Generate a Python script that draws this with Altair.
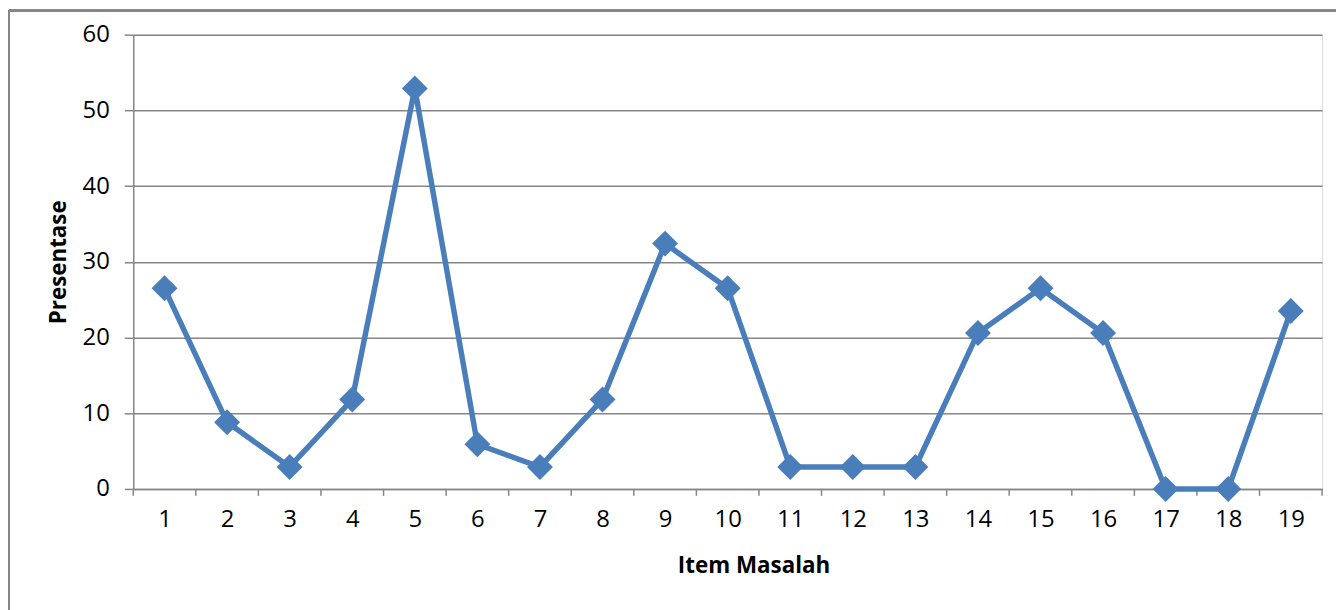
import altair as alt
import pandas as pd

items = list(range(1, 20))
presentase = [26.5, 8.8, 2.9, 11.8, 52.9, 5.9, 2.9, 11.8, 32.4, 26.5,
              2.9, 2.9, 2.9, 20.6, 26.5, 20.6, 0.0, 0.0, 23.5]
y_ticks = [0, 10, 20, 30, 40, 50, 60]

df = pd.DataFrame({"item": items, "val": presentase})
bounds = pd.DataFrame({"b": [i - 0.5 for i in items] + [items[-1] + 0.5]})

W, H = 1196, 457
BLUE = "#4A7EBB"
GRAY = "#868686"
FONT = "Open Sans"

xscale = alt.Scale(domain=[items[0] - 0.5, items[-1] + 0.5], nice=False, zero=False)
yscale = alt.Scale(domain=[0, 60], nice=False)

xaxis = alt.Axis(values=items, tickCount=len(items), grid=False, ticks=False,
                 domain=True, domainColor=GRAY, domainWidth=1.5,
                 labelFont=FONT, labelFontSize=24, labelColor="#000000",
                 labelPadding=19, labelFlush=False, labelOverlap=False,
                 title="Item Masalah", titleFont=FONT, titleFontSize=22.5,
                 titleFontWeight="bold", titleColor="#000000",
                 titleX=624, titleY=77, titleAlign="center", titleBaseline="middle")
yaxis = alt.Axis(values=y_ticks, grid=True, gridColor=GRAY, gridWidth=1.5,
                 ticks=True, tickSize=9, tickColor=GRAY, tickWidth=1.5,
                 domain=True, domainColor=GRAY, domainWidth=1.5,
                 labelFont=FONT, labelFontSize=24, labelColor="#000000",
                 labelPadding=15,
                 title="Presentase", titleFont=FONT, titleFontSize=22.5,
                 titleFontWeight="bold", titleColor="#000000",
                 titleAngle=-90, titleX=-75, titleY=H / 2,
                 titleAlign="center", titleBaseline="middle")

base = alt.Chart(df)
line = base.mark_line(color=BLUE, strokeWidth=5.5).encode(
    x=alt.X("item:Q", scale=xscale, axis=xaxis),
    y=alt.Y("val:Q", scale=yscale, axis=yaxis),
)
points = base.mark_point(shape="diamond", filled=True, color=BLUE, size=680, opacity=1).encode(
    x=alt.X("item:Q", scale=xscale),
    y=alt.Y("val:Q", scale=yscale),
)
ticks = alt.Chart(bounds).mark_rule(color=GRAY, strokeWidth=1.5).encode(
    x=alt.X("b:Q", scale=xscale),
    y=alt.value(H),
    y2=alt.value(H + 7),
)
frame_left = alt.Chart(bounds).mark_rule(color=GRAY, strokeWidth=2).encode(
    x=alt.value(-125), y=alt.value(-24), y2=alt.value(H + 130)
)
frame_top = alt.Chart(bounds).mark_rule(color=GRAY, strokeWidth=2).encode(
    x=alt.value(-125), x2=alt.value(W + 30), y=alt.value(-24)
)

chart = alt.layer(frame_left, frame_top, ticks, line, points).properties(
    width=W, height=H,
    autosize=alt.AutoSizeParams(type="none"),
    padding={"left": 126, "top": 25, "right": 14, "bottom": 120},
).configure_view(stroke=None).configure(background="white")

chart.save("out.html", embed_options={"renderer": "svg", "actions": False})
